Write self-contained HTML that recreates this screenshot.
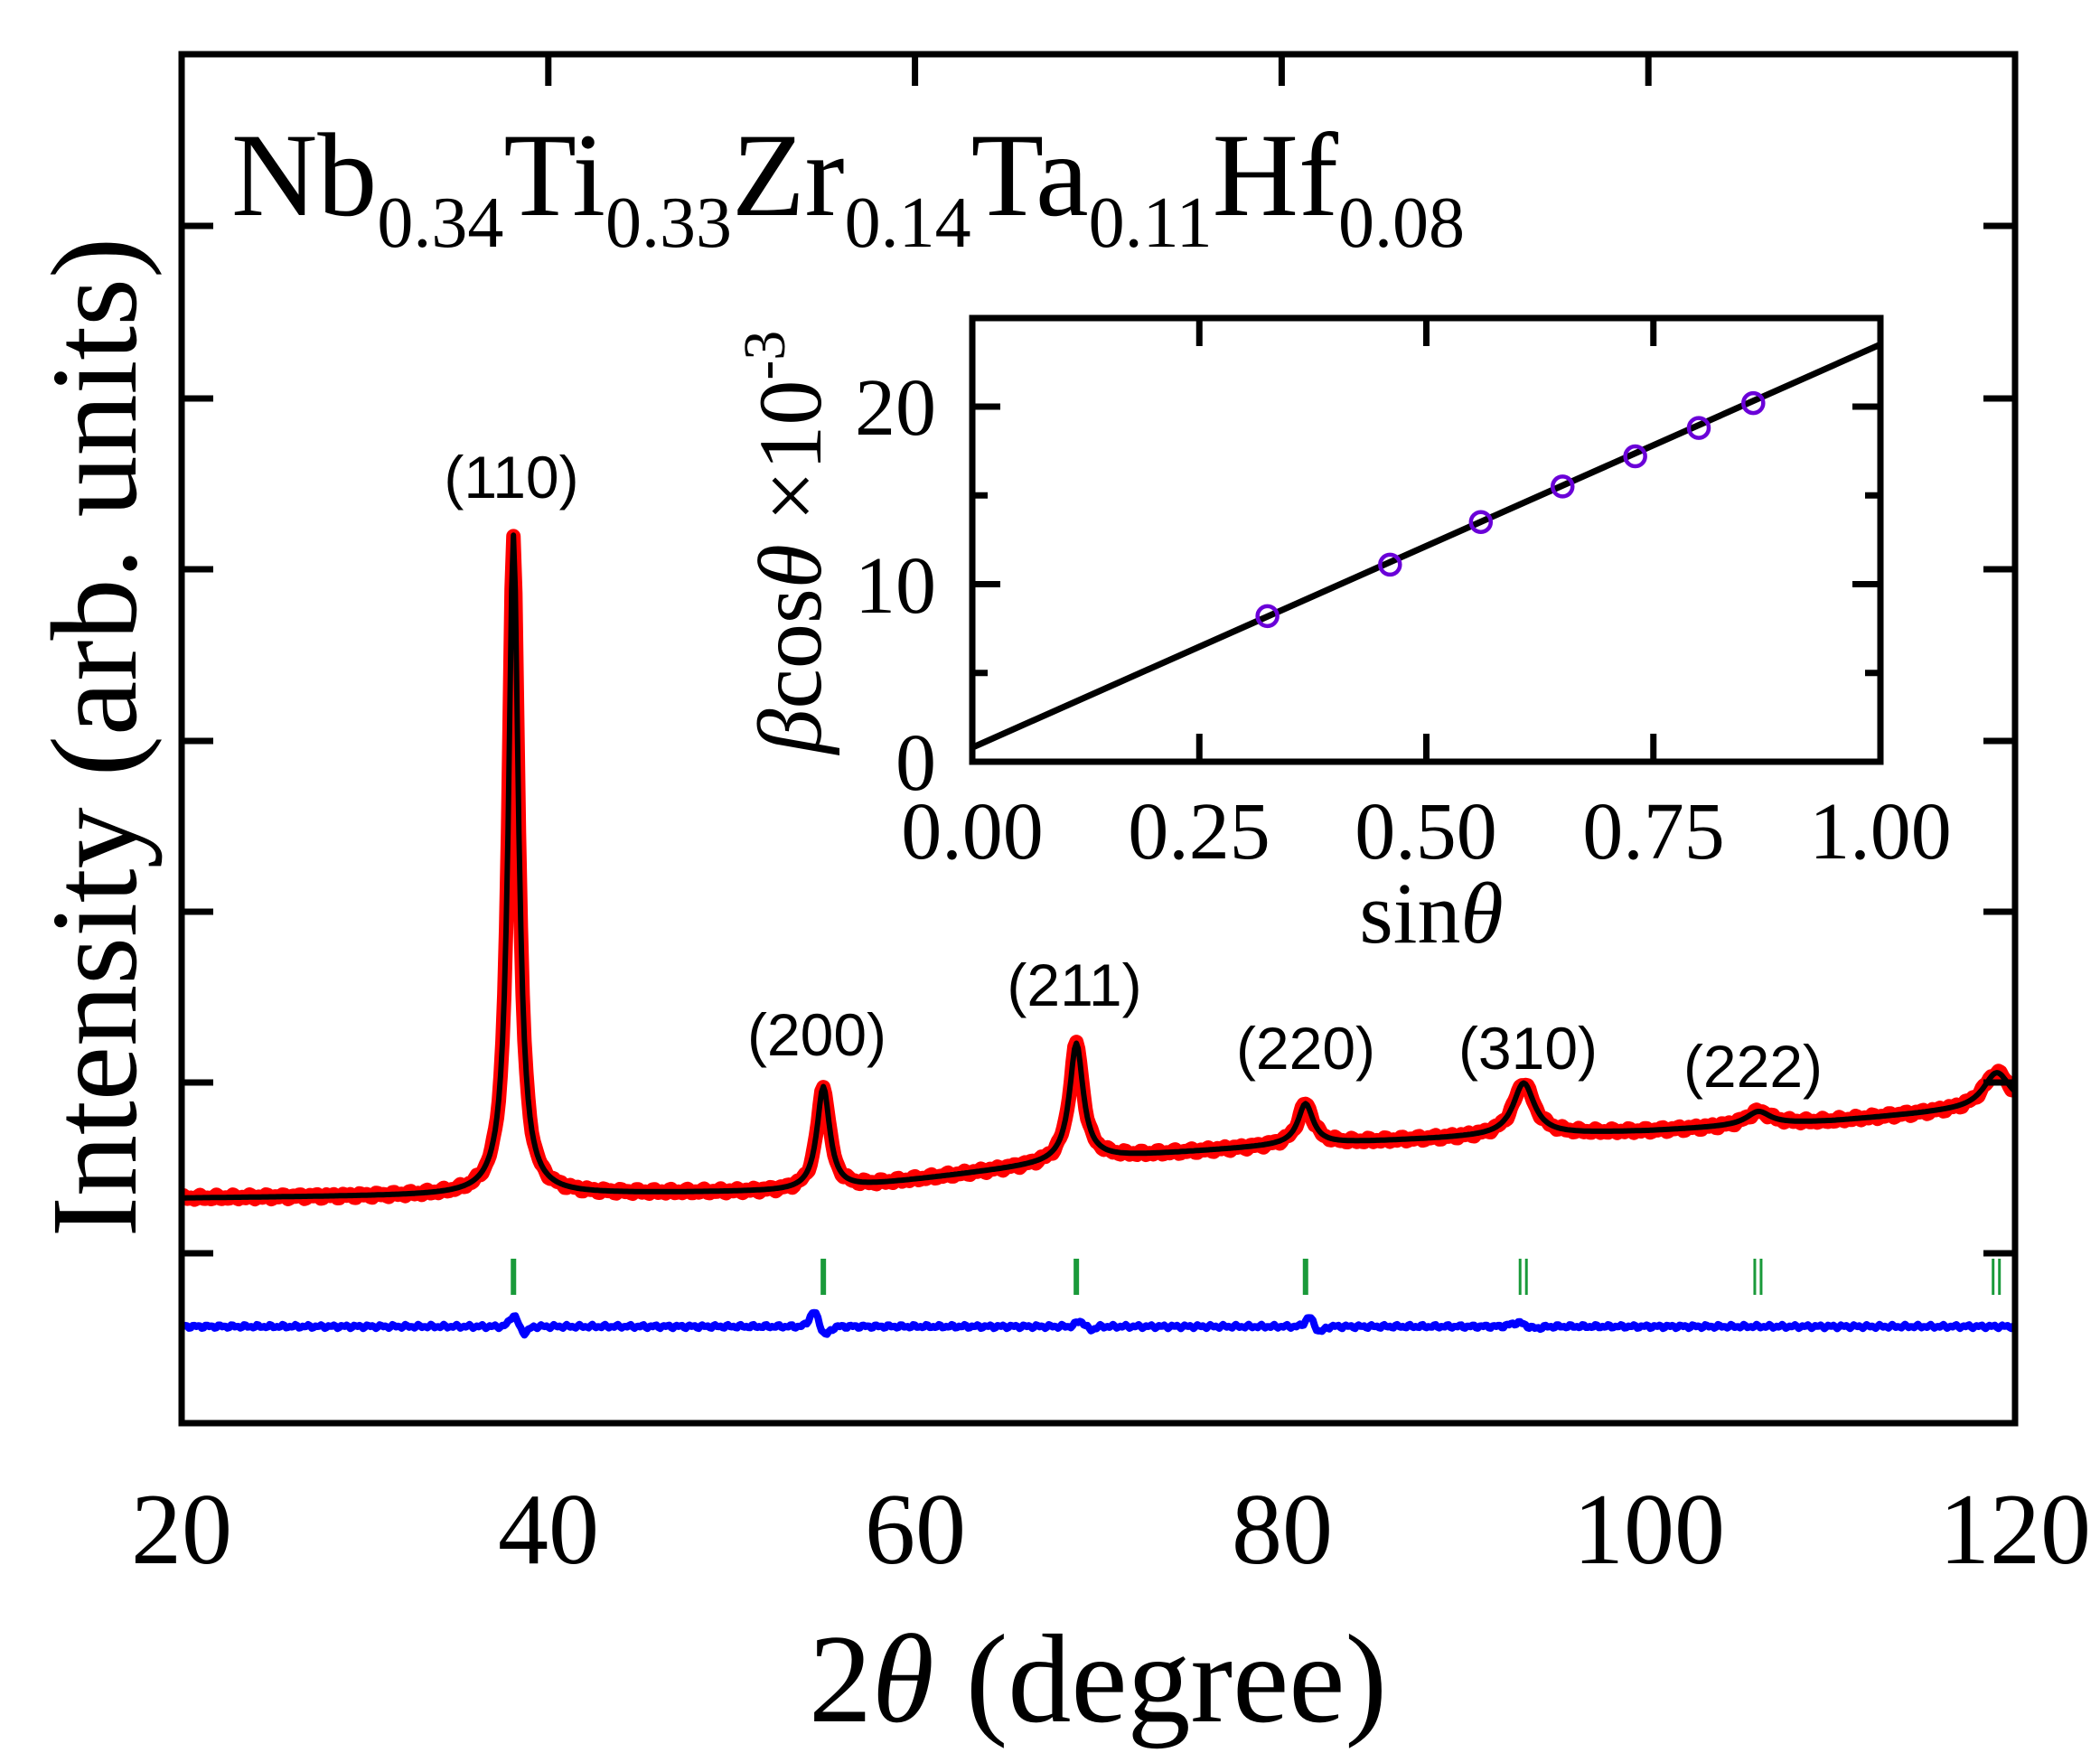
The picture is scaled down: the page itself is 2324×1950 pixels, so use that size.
<!DOCTYPE html>
<html><head><meta charset="utf-8"><style>
html,body{margin:0;padding:0;background:#fff;}
svg{display:block;}
</style></head><body>
<svg id="s" width="2324" height="1950" viewBox="0 0 2324 1950" xmlns="http://www.w3.org/2000/svg">
<g id="data"></g>
<rect x="201" y="60" width="2029" height="1515" fill="none" stroke="#000" stroke-width="7"/>
<g stroke="#000" stroke-width="7" id="ticks"></g>
<g font-family="Liberation Serif, serif" font-size="112" text-anchor="middle" fill="#000">
<text x="201" y="1730">20</text><text x="607" y="1730">40</text><text x="1013" y="1730">60</text>
<text x="1419" y="1730">80</text><text x="1825" y="1730">100</text><text x="2230" y="1730">120</text>
</g>
<text x="1215" y="1905" font-family="Liberation Serif, serif" font-size="140" text-anchor="middle">2<tspan font-style="italic">θ</tspan> (degree)</text>
<text transform="translate(150,816) rotate(-90)" font-family="Liberation Serif, serif" font-size="136" text-anchor="middle">Intensity (arb. units)</text>
<text x="256" y="238" font-family="Liberation Serif, serif" font-size="132">Nb<tspan font-size="80" dy="35">0.34</tspan><tspan dy="-35">Ti</tspan><tspan font-size="80" dy="35">0.33</tspan><tspan dy="-35">Zr</tspan><tspan font-size="80" dy="35">0.14</tspan><tspan dy="-35">Ta</tspan><tspan font-size="80" dy="35">0.11</tspan><tspan dy="-35">Hf</tspan><tspan font-size="80" dy="35">0.08</tspan></text>
<g font-family="Liberation Sans, sans-serif" font-size="66" text-anchor="middle">
<text x="566" y="551">(110)</text><text x="904" y="1168">(200)</text><text x="1189" y="1113">(211)</text>
<text x="1445" y="1183">(220)</text><text x="1691" y="1183">(310)</text><text x="1940" y="1203">(222)</text>
</g>
<rect x="1076" y="352" width="1005" height="491" fill="#fff" stroke="#000" stroke-width="7"/>
<g id="inset"></g>
<g font-family="Liberation Serif, serif" font-size="90" text-anchor="middle">
<text x="1076" y="950">0.00</text><text x="1327" y="950">0.25</text><text x="1578" y="950">0.50</text><text x="1830" y="950">0.75</text><text x="2081" y="950">1.00</text>
</g>
<g font-family="Liberation Serif, serif" font-size="90" text-anchor="end">
<text x="1036" y="874">0</text><text x="1036" y="678">10</text><text x="1036" y="481">20</text>
</g>
<text x="1584" y="1043" font-family="Liberation Serif, serif" font-size="96" text-anchor="middle">sin<tspan font-style="italic">θ</tspan></text>
<text transform="translate(908,600) rotate(-90)" font-family="Liberation Serif, serif" font-size="100" text-anchor="middle"><tspan font-style="italic">β</tspan>cos<tspan font-style="italic">θ</tspan> ×10<tspan font-size="66" dy="-40">-3</tspan></text>
</svg>
<script>
var NS="http://www.w3.org/2000/svg";
function el(t,a,p){var e=document.createElementNS(NS,t);for(var k in a)e.setAttribute(k,a[k]);p.appendChild(e);return e;}
var X=function(v){return 201+(v-20)*20.29;};
var tk=document.getElementById('ticks');
[250,441,630,820,1009,1198,1387].forEach(function(y){
 el('line',{x1:201,x2:236,y1:y,y2:y},tk); el('line',{x1:2195,x2:2230,y1:y,y2:y},tk);});
[40,60,80,100].forEach(function(v){el('line',{x1:X(v),x2:X(v),y1:60,y2:95},tk);});
function bg(t){var pts=[[20,1326],[40,1322],[55,1318],[60,1306],[70,1282],[80,1268],[90,1259],[100,1252],[110,1241],[116,1231],[120,1226]];
 for(var i=0;i<pts.length-1;i++){if(t<=pts[i+1][0]){var f=(t-pts[i][0])/(pts[i+1][0]-pts[i][0]);return pts[i][1]+f*(pts[i+1][1]-pts[i][1]);}}return 1226;}
var peaks=[[38.1,730,0.33],[55,115,0.42],[68.8,130,0.45],[81.3,45,0.5],[93.2,58,0.7],[106,15,0.8],[119,40,0.9]];
function I(t){var y=bg(t);peaks.forEach(function(p){var d=(t-p[0])/p[2];y-=p[1]/(1+d*d);});return y;}
var d1="",d2="",d3="";
for(var t=20;t<=120.001;t+=0.1){var y=I(t);var n=(Math.sin(t*7.1)+Math.sin(t*13.7))*1.5;
 d1+=(t==20?"M":"L")+X(t).toFixed(1)+","+(y+n).toFixed(1);
 d2+=(t==20?"M":"L")+X(t).toFixed(1)+","+y.toFixed(1);
 var dd=1468+(Math.sin(t*9.3)+Math.sin(t*17.9))*1.2;
 var amps=[[38.1,-12,0.3],[54.5,-16,0.35],[69,-6,0.3],[81.5,-10,0.3],[93,-5,0.6]];
 amps.forEach(function(p){var a=(t-p[0])/p[2];dd+=p[1]*Math.exp(-a*a)-(p[1]*0.6)*Math.exp(-Math.pow((t-p[0]-0.6)/p[2],2));});
 d3+=(t==20?"M":"L")+X(t).toFixed(1)+","+dd.toFixed(1);}
var g=document.getElementById('data');
el('path',{d:d1,fill:'none',stroke:'#f00','stroke-width':16,'stroke-linejoin':'round'},g);
el('path',{d:d2,fill:'none',stroke:'#000','stroke-width':6,'stroke-linejoin':'round'},g);
el('path',{d:d3,fill:'none',stroke:'#00f','stroke-width':8,'stroke-linejoin':'round'},g);
[[38.1,1],[55,1],[68.8,1],[81.3,1],[93.2,2],[106,2],[119,2]].forEach(function(p){
 if(p[1]==1)el('line',{x1:X(p[0]),x2:X(p[0]),y1:1393,y2:1433,stroke:'#1a9a3a','stroke-width':6},g);
 else{el('line',{x1:X(p[0])-4,x2:X(p[0])-4,y1:1393,y2:1433,stroke:'#1a9a3a','stroke-width':3},g);
  el('line',{x1:X(p[0])+3,x2:X(p[0])+3,y1:1393,y2:1433,stroke:'#1a9a3a','stroke-width':3},g);}});
var ins=document.getElementById('inset');
var IX=function(v){return 1076+v*1005;},IY=function(v){return 843-v*19.65;};
[0.25,0.5,0.75].forEach(function(v){el('line',{x1:IX(v),x2:IX(v),y1:352,y2:383,stroke:'#000','stroke-width':7},ins);
 el('line',{x1:IX(v),x2:IX(v),y1:812,y2:843,stroke:'#000','stroke-width':7},ins);});
[5,10,15,20].forEach(function(v){var L=(v%10==0)?31:17;el('line',{x1:1076,x2:1076+L,y1:IY(v),y2:IY(v),stroke:'#000','stroke-width':7},ins);
 el('line',{x1:2081-L,x2:2081,y1:IY(v),y2:IY(v),stroke:'#000','stroke-width':7},ins);});
el('line',{x1:IX(0),y1:IY(0.8),x2:IX(1),y2:IY(23.5),stroke:'#000','stroke-width':7},ins);
[[0.325,8.2],[0.46,11.1],[0.56,13.5],[0.65,15.5],[0.73,17.2],[0.8,18.8],[0.86,20.2]].forEach(function(p){
 el('circle',{cx:IX(p[0]),cy:IY(p[1]),r:11,fill:'none',stroke:'#6a00d8','stroke-width':4.5},ins);});
</script>
</body></html>
